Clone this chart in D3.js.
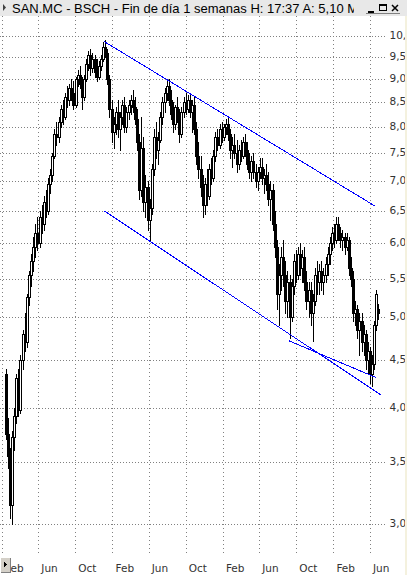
<!DOCTYPE html>
<html>
<head>
<meta charset="utf-8">
<script src="https://cdn.jsdelivr.net/npm/d3@7"></script>
<style>
  html, body { margin: 0; padding: 0; background: #fff; overflow: hidden; }
  svg { display: block; }
</style>
</head>
<body>
<svg id="chart" width="407" height="575"></svg>
<script>
// Weekly candles for SAN.MC (BSCH), one per week ending on Friday.
const titleText = "SAN.MC - BSCH - Fin de día 1 semanas H: 17:37 A: 5,10 M";
const firstWeek = "2009-02-13";
const lastWeek = "2012-06-29";

const opens = [
  4.35,3.75,3.55,3.15,3.72,3.92,4.30,3.98,4.50,4.80,4.70,5.25,5.55,5.75,5.95,6.15,6.00,6.40,6.30,6.65,
  6.50,6.95,7.10,7.45,7.85,7.80,8.10,8.35,8.20,8.60,8.55,8.80,8.70,8.45,9.00,9.10,8.90,8.60,9.00,9.35,
  9.55,9.25,9.45,9.15,9.05,9.30,9.45,9.75,9.60,9.00,8.35,7.90,8.05,8.30,7.95,8.20,8.45,8.00,8.30,8.45,
  8.55,8.40,8.15,7.70,6.85,7.60,6.65,6.90,6.35,6.55,7.20,7.80,7.55,7.75,8.20,8.50,8.70,8.85,8.55,8.25,
  8.05,8.40,8.20,7.85,8.30,8.50,8.35,8.55,8.30,8.45,7.95,7.45,7.20,6.90,6.60,6.95,6.75,7.20,7.05,7.45,
  7.80,7.65,7.95,7.80,8.00,8.05,7.85,7.55,7.65,7.50,7.30,7.55,7.45,7.70,7.55,7.30,7.15,7.35,7.15,7.00,
  7.15,7.25,7.05,7.10,6.95,6.70,6.85,6.30,5.95,5.30,5.55,5.80,5.55,5.20,5.45,5.00,5.40,5.75,5.55,5.85,
  5.65,5.80,5.45,5.20,5.35,5.05,5.20,5.55,5.45,5.60,5.45,5.55,5.70,5.85,6.00,6.15,6.05,6.30,6.15,6.05,
  6.10,5.95,6.05,5.65,5.50,5.05,5.10,4.85,4.95,4.70,4.80,4.50,4.60,4.35,4.45,4.90,5.10
];
const highs = [
  4.40,3.90,3.62,3.78,4.00,4.35,4.40,4.55,4.85,5.05,5.30,5.60,5.85,6.10,6.30,6.40,6.50,6.60,6.75,6.85,
  7.05,7.20,7.50,7.95,8.10,8.20,8.45,8.55,8.70,8.85,8.90,9.00,8.95,9.05,9.20,9.30,9.05,9.10,9.45,9.65,
  9.70,9.60,9.55,9.45,9.40,9.55,9.85,9.90,9.70,9.10,8.55,8.20,8.40,8.55,8.30,8.55,8.60,8.40,8.55,8.65,
  8.75,8.60,8.35,7.85,8.20,7.80,7.10,7.00,6.70,7.30,7.95,8.10,7.90,8.30,8.60,8.80,9.00,9.00,8.75,8.50,
  8.45,8.60,8.35,8.40,8.60,8.70,8.65,8.70,8.55,8.60,8.10,7.70,7.45,7.10,7.05,7.20,7.30,7.40,7.55,7.90,
  7.95,8.05,8.10,8.05,8.15,8.20,7.95,7.80,7.85,7.75,7.65,7.75,7.80,7.85,7.70,7.50,7.45,7.50,7.30,7.25,
  7.40,7.40,7.20,7.30,7.15,7.00,6.95,6.50,6.05,5.70,5.95,6.05,5.75,5.60,5.55,5.50,5.85,5.90,5.95,6.00,
  5.90,5.95,5.60,5.45,5.45,5.30,5.65,5.75,5.70,5.75,5.65,5.80,5.95,6.10,6.25,6.30,6.40,6.40,6.25,6.20,
  6.15,6.15,6.10,5.80,5.60,5.20,5.15,5.05,5.05,4.90,4.85,4.70,4.65,4.55,4.95,5.35,5.17
];
const lows = [
  3.70,3.45,3.05,3.00,3.60,3.85,3.92,3.95,4.40,4.60,4.65,5.15,5.40,5.60,5.80,5.90,5.95,6.15,6.20,6.40,
  6.45,6.80,7.00,7.40,7.65,7.70,8.00,8.05,8.15,8.40,8.45,8.55,8.35,8.40,8.85,8.80,8.35,8.55,8.95,9.20,
  9.10,9.15,9.05,8.95,9.00,9.20,9.40,9.50,8.90,8.20,7.70,7.60,7.85,7.80,7.55,8.05,7.90,7.90,8.15,8.25,
  8.30,8.05,7.55,6.70,6.75,6.50,6.40,6.20,6.05,6.45,7.10,7.40,7.30,7.70,8.05,8.30,8.55,8.45,8.15,7.90,
  7.95,8.10,7.70,7.80,8.20,8.25,8.30,8.20,7.90,7.85,7.30,7.05,6.75,6.40,6.45,6.60,6.70,6.95,7.00,7.35,
  7.55,7.60,7.70,7.75,7.85,7.75,7.40,7.25,7.40,7.15,7.20,7.35,7.40,7.45,7.20,7.05,7.00,7.05,6.90,6.85,
  7.05,6.95,6.80,6.85,6.60,6.35,6.20,5.80,5.10,4.90,5.35,5.40,5.05,5.00,4.75,4.95,5.30,5.45,5.50,5.55,
  5.45,5.35,5.10,5.00,4.90,4.72,5.15,5.30,5.30,5.35,5.30,5.45,5.55,5.70,5.90,5.95,6.00,6.05,5.95,5.90,
  5.85,5.90,5.55,5.40,4.95,4.90,4.75,4.55,4.60,4.55,4.40,4.35,4.25,4.22,4.40,4.85,4.98
];
const closes = [
  3.75,3.55,3.15,3.72,3.92,4.30,3.98,4.50,4.80,4.70,5.25,5.55,5.75,5.95,6.15,6.00,6.40,6.30,6.65,6.50,
  6.95,7.10,7.45,7.85,7.80,8.10,8.35,8.20,8.60,8.55,8.80,8.70,8.45,9.00,9.10,8.90,8.60,9.00,9.35,9.55,
  9.25,9.45,9.15,9.05,9.30,9.45,9.75,9.60,9.00,8.35,7.90,8.05,8.30,7.95,8.20,8.45,8.00,8.30,8.45,8.55,
  8.40,8.15,7.70,6.85,7.60,6.65,6.90,6.35,6.55,7.20,7.80,7.55,7.75,8.20,8.50,8.70,8.85,8.55,8.25,8.05,
  8.40,8.20,7.85,8.30,8.50,8.35,8.55,8.30,8.45,7.95,7.45,7.20,6.90,6.60,6.95,6.75,7.20,7.05,7.45,7.80,
  7.65,7.95,7.80,8.00,8.05,7.85,7.55,7.65,7.50,7.30,7.55,7.45,7.70,7.55,7.30,7.15,7.35,7.15,7.00,7.15,
  7.25,7.05,7.10,6.95,6.70,6.85,6.30,5.95,5.30,5.55,5.80,5.55,5.20,5.45,5.00,5.40,5.75,5.55,5.85,5.65,
  5.80,5.45,5.20,5.35,5.05,5.20,5.55,5.45,5.60,5.45,5.55,5.70,5.85,6.00,6.15,6.05,6.30,6.15,6.05,6.10,
  5.95,6.05,5.65,5.50,5.05,5.10,4.85,4.95,4.70,4.80,4.50,4.60,4.35,4.45,4.90,5.30,5.05
];

// Price axis (log scale) and month axis
const priceTicks = [3.0, 3.5, 4.0, 4.5, 5.0, 5.5, 6.0, 6.5, 7.0, 7.5, 8.0, 8.5, 9.0, 9.5, 10.0];
const priceTickLabels = ["3,0","3,5","4,0","4,5","5,0","5,5","6,0","6,5","7,0","7,5","8,0","8,5","9,0","9,5","10,0"];
const monthTicks = ["2009-02-01","2009-06-01","2009-10-01","2010-02-01","2010-06-01","2010-10-01",
                    "2011-02-01","2011-06-01","2011-10-01","2012-02-01","2012-06-01"];
const monthLabels = ["Feb","Jun","Oct","Feb","Jun","Oct","Feb","Jun","Oct","Feb","Jun"];

// Hand-drawn channel lines: [date, price] end points
const channelUpper = [["2010-01-05", 9.87], ["2012-06-17", 6.58]];
const channelLower = [["2010-01-05", 6.50], ["2012-07-06", 4.13]];
const channelInner = [["2011-09-06", 4.72], ["2012-06-20", 4.31]];

const W = 407, H = 575;
const parse = d3.utcParse("%Y-%m-%d");
const svg = d3.select("#chart");

const x = d3.scaleUtc()
  .domain([parse("2009-02-01"), parse("2012-06-01")])
  .range([2, 370]);
const y = d3.scaleLog()
  .domain([3, 10])
  .range([524.3, 36.3]);

const plotRight = 386, plotTop = 16, plotBottom = 555;

const weeks = d3.utcFriday.range(parse(firstWeek), d3.utcDay.offset(parse(lastWeek), 1))
  .slice(0, opens.length)
  .map((d, i) => ({ date: d, o: opens[i], h: highs[i], l: lows[i], c: closes[i] }));

// Background
svg.append("rect").attr("width", W).attr("height", H).attr("fill", "#ffffff");

// Grid
const grid = svg.append("g").attr("shape-rendering", "crispEdges");
grid.selectAll("line.h").data(priceTicks).join("line")
  .attr("class", "h")
  .attr("x1", 0).attr("x2", plotRight)
  .attr("y1", d => Math.round(y(d)) + 0.5).attr("y2", d => Math.round(y(d)) + 0.5)
  .attr("stroke", "#808080").attr("stroke-dasharray", "1,2");
grid.selectAll("line.v").data(monthTicks).join("line")
  .attr("class", "v")
  .attr("x1", d => Math.round(x(parse(d))) + 0.5).attr("x2", d => Math.round(x(parse(d))) + 0.5)
  .attr("y1", plotTop).attr("y2", plotBottom)
  .attr("stroke", "#808080").attr("stroke-dasharray", "1,3");

// Candles
const candles = svg.append("g").attr("shape-rendering", "crispEdges");
weeks.forEach(d => {
  const cx = Math.round(x(d.date));
  candles.append("line")
    .attr("x1", cx + 0.5).attr("x2", cx + 0.5)
    .attr("y1", Math.round(y(d.h))).attr("y2", Math.round(y(d.l)) + 1)
    .attr("stroke", "#000");
  const top = Math.round(y(Math.max(d.o, d.c)));
  const bot = Math.round(y(Math.min(d.o, d.c)));
  if (d.c >= d.o) {
    candles.append("rect")
      .attr("x", cx - 0.5).attr("y", top + 0.5)
      .attr("width", 2).attr("height", Math.max(1, bot - top))
      .attr("fill", "#fff").attr("stroke", "#000");
  } else {
    candles.append("rect")
      .attr("x", cx - 1).attr("y", top)
      .attr("width", 3).attr("height", Math.max(1, bot - top + 1))
      .attr("fill", "#000");
  }
});

// Channel lines
const chan = svg.append("g").attr("shape-rendering", "crispEdges");
[channelUpper, channelLower, channelInner].forEach(seg => {
  chan.append("line")
    .attr("x1", x(parse(seg[0][0]))).attr("y1", y(seg[0][1]))
    .attr("x2", x(parse(seg[1][0]))).attr("y2", y(seg[1][1]))
    .attr("stroke", "#0000ff").attr("stroke-width", 1);
});

// Price labels on the right
svg.append("defs").append("clipPath").attr("id", "rclip")
  .append("rect").attr("x", 386).attr("y", 16).attr("width", 19).attr("height", 545);
svg.append("g").attr("clip-path", "url(#rclip)")
  .selectAll("text").data(priceTicks).join("text")
  .attr("x", 389.5).attr("y", d => y(d) + 3)
  .attr("font-family", "DejaVu Sans, Verdana, sans-serif").attr("font-size", 10.5)
  .attr("fill", "#333")
  .text((d, i) => priceTickLabels[i]);

// Month labels
svg.append("g").selectAll("text").data(monthTicks).join("text")
  .attr("x", d => x(parse(d)) + 3).attr("y", 572)
  .attr("font-family", "DejaVu Sans, Verdana, sans-serif").attr("font-size", 10.5)
  .attr("fill", "#333")
  .text((d, i) => monthLabels[i]);

// Bottom-left scroll button
const btn = svg.append("g").attr("shape-rendering", "crispEdges");
btn.append("rect").attr("x", 0).attr("y", 557).attr("width", 11).attr("height", 16).attr("fill", "#d4d0c8");
btn.append("path").attr("d", "M0.5,572.5V557.5H10.5").attr("stroke", "#fff").attr("fill", "none");
btn.append("path").attr("d", "M0.5,572.5H10.5V557.5").attr("stroke", "#808080").attr("fill", "none");
btn.append("path").attr("d", "M4,561L7,564.5L4,568Z").attr("fill", "#000");

// Right edge strip
svg.append("rect").attr("x", 405).attr("y", 0).attr("width", 2).attr("height", H).attr("fill", "#f4f1de");

// Title bar
const bar = svg.append("g");
bar.append("rect").attr("x", 0).attr("y", 0).attr("width", W).attr("height", 16).attr("fill", "#e8e8e8");
bar.append("path").attr("d", "M3,4L6,7.5L3,11Z").attr("fill", "#404040");
bar.append("defs").append("clipPath").attr("id", "tclip")
  .append("rect").attr("x", 0).attr("y", 0).attr("width", 354).attr("height", 16);
bar.append("text")
  .attr("clip-path", "url(#tclip)")
  .attr("x", 12).attr("y", 13)
  .attr("font-family", "Liberation Sans, Arial, sans-serif").attr("font-size", 13)
  .attr("fill", "#000")
  .text(titleText);
// Window buttons
const wb = bar.append("g").attr("shape-rendering", "crispEdges").attr("fill", "none").attr("stroke", "#000");
wb.append("line").attr("x1", 368).attr("x2", 374).attr("y1", 11.5).attr("y2", 11.5).attr("stroke-width", 2);
wb.append("rect").attr("x", 379.5).attr("y", 4.5).attr("width", 7).attr("height", 6);
wb.append("line").attr("x1", 379).attr("x2", 387).attr("y1", 5).attr("y2", 5).attr("stroke-width", 2);
wb.append("path").attr("d", "M392,5L398,11M398,5L392,11").attr("stroke-width", 1.5).attr("shape-rendering", "auto");
wb.append("line").attr("x1", 366).attr("x2", 400).attr("y1", 13.5).attr("y2", 13.5).attr("stroke", "#808080");
</script>
</body>
</html>
